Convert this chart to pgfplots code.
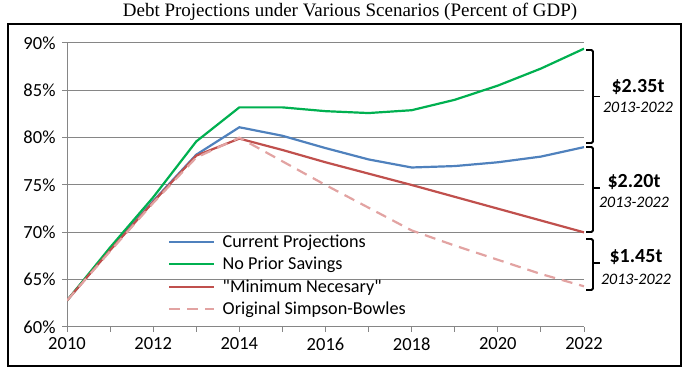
\documentclass[border=0pt]{standalone}
\usepackage{pgfplots}
\pgfplotsset{compat=1.18}
\usepackage{fontspec}
\setmainfont{Carlito}
\newfontfamily\titlefont{Liberation Serif}
\definecolor{cpblue}{HTML}{4F81BD}
\definecolor{npgreen}{HTML}{00B050}
\definecolor{mnred}{HTML}{C0504D}
\definecolor{sbpink}{HTML}{E2A3A2}
\definecolor{gridgray}{HTML}{868686}
\begin{document}
\begin{tikzpicture}[x=1pt,y=1pt]
\useasboundingbox (0,0) rectangle (692,374);
\draw[line width=1.8pt] (8,8) rectangle (681,350);
\node[font=\titlefont\fontsize{19}{22}\selectfont] at (350,362) {Debt Projections under Various Scenarios (Percent of GDP)};
\begin{axis}[
  at={(67pt,47pt)}, anchor=south west,
  scale only axis, width=517pt, height=284pt,
  xmin=2010, xmax=2022, ymin=60, ymax=90,
  axis lines*=left,
  axis line style={-, draw=gridgray, line width=1pt},
  xtick={2010,2012,...,2022},
  minor xtick={2011,2013,...,2021},
  ytick={60,65,...,90},
  tick align=outside,
  major tick length=5pt, minor tick length=5pt,
  tick style={draw=gridgray, line width=1pt},
  ymajorgrids,
  grid style={draw=gridgray, line width=1pt},
  /pgf/number format/assume math mode=true,
  /pgf/number format/1000 sep={},
  yticklabel={\pgfmathprintnumber{\tick}\%},
  ticklabel style={font=\fontsize{18.5}{20}\selectfont},
  xticklabel style={yshift=-2pt},
  yticklabel style={xshift=-3pt},
  legend style={at={(0.195,0.331)}, anchor=north west, draw=none, fill=none,
    font=\fontsize{18.2}{20}\selectfont, row sep=5.5pt, inner sep=0pt,
    nodes={inner sep=1.5pt}},
  legend cell align=left,
  legend image code/.code={\draw[#1] (0pt,0pt) -- (45pt,0pt); \path (51pt,0pt);},
  line join=round,
]
\addplot[cpblue, line width=2.2pt] coordinates {
(2010,62.8) (2011,68.2) (2012,73.3) (2013,78.2) (2014,81.1) (2015,80.2) (2016,78.9) (2017,77.7) (2018,76.85) (2019,77.0) (2020,77.4) (2021,78.0) (2022,79.0)};
\addlegendentry{Current Projections}
\addplot[npgreen, line width=2.2pt] coordinates {
(2010,62.8) (2011,68.4) (2012,73.7) (2013,79.6) (2014,83.2) (2015,83.2) (2016,82.8) (2017,82.6) (2018,82.9) (2019,84.0) (2020,85.5) (2021,87.3) (2022,89.4)};
\addlegendentry{No Prior Savings}
\addplot[mnred, line width=2.2pt] coordinates {
(2010,62.8) (2011,68.1) (2012,73.2) (2013,78.1) (2014,79.9) (2015,78.7) (2016,77.4) (2017,76.2) (2018,75.0) (2019,73.75) (2020,72.5) (2021,71.25) (2022,70.0)};
\addlegendentry{\textquotedbl Minimum Necesary\textquotedbl}
\addplot[sbpink, line width=2.2pt, dash pattern=on 11pt off 7pt] coordinates {
(2010,62.8) (2011,68.0) (2012,73.1) (2013,77.9) (2014,80.0) (2015,77.5) (2016,75.0) (2017,72.6) (2018,70.2) (2019,68.6) (2020,67.1) (2021,65.6) (2022,64.3)};
\addlegendentry{Original Simpson-Bowles}
\end{axis}
\begin{scope}[line width=1.8pt, line cap=butt]
\draw[rounded corners=1.5pt] (586,324) -- (593,324) -- (593,231) -- (586,231);
\draw (593,277.5) -- (600,277.5);
\draw[rounded corners=1.5pt] (586,227) -- (593,227) -- (593,142) -- (586,142);
\draw (593,186) -- (600,186);
\draw[rounded corners=1.5pt] (586,135) -- (593,135) -- (593,84) -- (586,84);
\draw (593,111) -- (600,111);
\end{scope}
\node[font=\fontsize{20}{22}\selectfont\bfseries] at (638,287) {\$2.35t};
\node[font=\fontsize{16}{18}\selectfont\itshape] at (638,267) {2013-2022};
\node[font=\fontsize{20}{22}\selectfont\bfseries] at (634,192) {\$2.20t};
\node[font=\fontsize{16}{18}\selectfont\itshape] at (634,172) {2013-2022};
\node[font=\fontsize{20}{22}\selectfont\bfseries] at (636,117) {\$1.45t};
\node[font=\fontsize{16}{18}\selectfont\itshape] at (636,95) {2013-2022};
\end{tikzpicture}
\end{document}
